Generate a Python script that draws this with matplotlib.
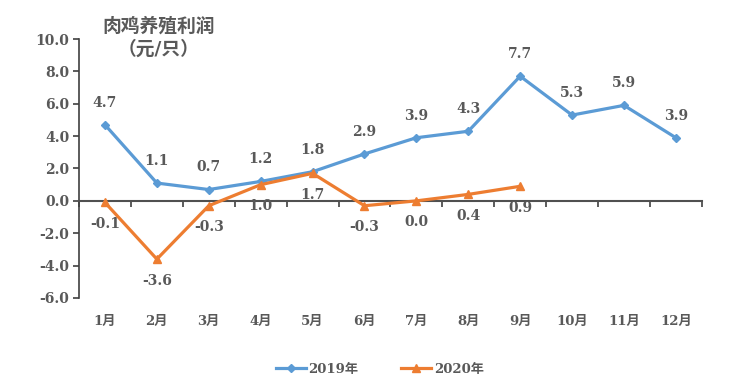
import matplotlib
matplotlib.use("Agg")
import matplotlib.pyplot as plt
import numpy as np

months = ["1月", "2月", "3月", "4月", "5月", "6月", "7月", "8月", "9月", "10月", "11月", "12月"]
profit_2019 = [4.7, 1.1, 0.7, 1.2, 1.8, 2.9, 3.9, 4.3, 7.7, 5.3, 5.9, 3.9]
profit_2020 = [-0.1, -3.6, -0.3, 1.0, 1.7, -0.3, 0.0, 0.4, 0.9]
series_names = ["2019年", "2020年"]
title_text = "肉鸡养殖利润\n（元/只）"

FAM = ["DejaVu Serif", "Noto Sans CJK SC"]
plt.rcParams["font.family"] = FAM
plt.rcParams["font.weight"] = "bold"
TXT = "#595959"
BLUE = "#5B9BD5"
ORANGE = "#ED7D31"

fig = plt.figure(figsize=(7.49, 3.85), dpi=100)
ax = fig.add_axes([0.1055, 0.226, 0.8315, 0.6727])

x19 = np.arange(len(profit_2019))
x20 = np.arange(len(profit_2020))
l1, = ax.plot(x19, profit_2019, color=BLUE, lw=2.3, marker="D", ms=4, label=series_names[0], zorder=3)
l2, = ax.plot(x20, profit_2020, color=ORANGE, lw=2.3, marker="^", ms=6, label=series_names[1], zorder=4)

for xi, v in zip(x19, profit_2019):
    ax.annotate(f"{v:.1f}", (xi, v), xytext=(0, 16), textcoords="offset points",
                ha="center", va="center", fontsize=10, color=TXT, fontweight="bold")
for xi, v in zip(x20, profit_2020):
    ax.annotate(f"{v:.1f}", (xi, v), xytext=(0, -15.5), textcoords="offset points",
                ha="center", va="center", fontsize=10, color=TXT, fontweight="bold")

ax.set_xlim(-0.5, len(months) - 0.5)
ax.set_ylim(-6, 10)
ax.set_yticks(np.arange(-6, 10.1, 2))
ax.set_yticklabels([f"{t:.1f}" for t in np.arange(-6, 10.1, 2)], fontsize=10, color=TXT, fontweight="bold")
ax.tick_params(axis="y", direction="out", length=4, width=1.2, color="#404040", pad=3)

for s in ["top", "right"]:
    ax.spines[s].set_visible(False)
ax.spines["left"].set_color("#404040")
ax.spines["left"].set_linewidth(1.2)
ax.spines["bottom"].set_position(("data", 0))
ax.spines["bottom"].set_color("#505050")
ax.spines["bottom"].set_linewidth(1.5)
ax.set_xticks(np.arange(-0.5, len(months)), minor=False)
ax.set_xticklabels([])
ax.tick_params(axis="x", direction="out", length=4, width=1.2, color="#404040")

sec = ax.secondary_xaxis(0)
sec.set_xticks(np.arange(len(months)))
sec.set_xticklabels(months, fontsize=9.5, color=TXT, fontweight="bold")
sec.tick_params(length=0, pad=12)
sec.spines["bottom"].set_visible(False)

fig.text(0.212, 0.902, title_text, ha="center", va="center", fontsize=13.5, color=TXT,
         fontweight="bold", linespacing=1.35)

leg = fig.legend(handles=[l1, l2], loc="center", bbox_to_anchor=(0.507, 0.04), ncol=2,
                 frameon=False, fontsize=9.5, handlelength=2.3, columnspacing=3.2, handletextpad=0.2)
for t in leg.get_texts():
    t.set_color(TXT)
    t.set_fontweight("bold")

fig.savefig("out.png", dpi=100)
